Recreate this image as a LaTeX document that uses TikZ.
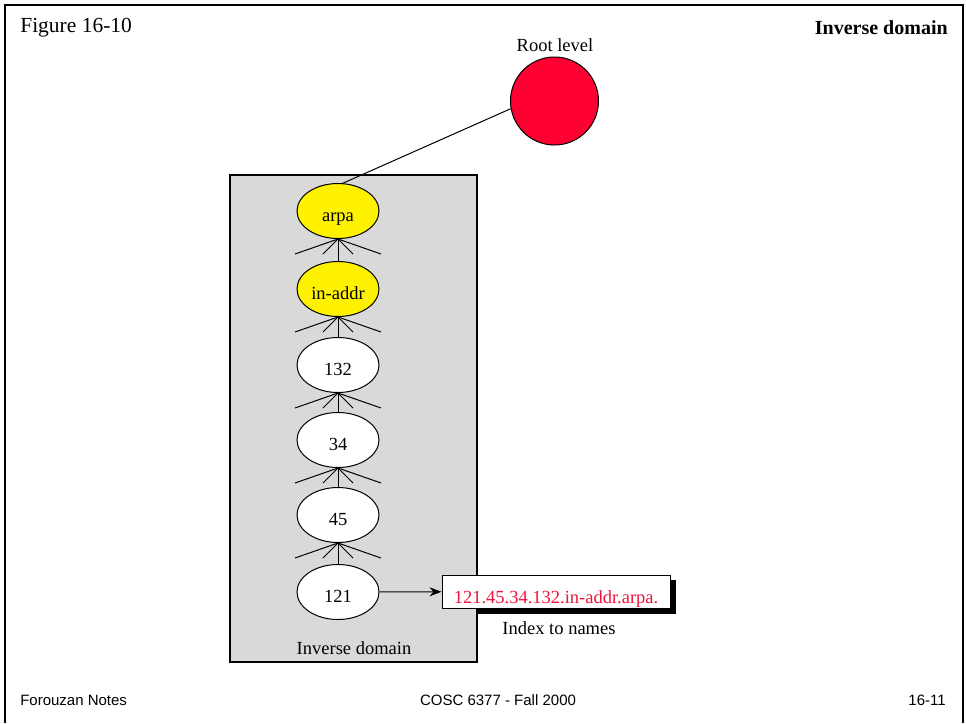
\documentclass[tikz,border=0pt]{standalone}
\usepackage{fontspec}
\setmainfont{Liberation Serif}
\setsansfont{Liberation Sans}
\usepackage{tikz}
\usetikzlibrary{positioning, shapes, arrows.meta, backgrounds}
\definecolor{rootred}{HTML}{FF0033}
\definecolor{boxred}{HTML}{F0143C}
\definecolor{domgray}{HTML}{D9D9D9}

\begin{document}
\begin{tikzpicture}[x=1pt,y=-1pt,semithick,
  dom/.style={ellipse, draw, fill=white, line width=1pt, minimum width=82pt, minimum height=55pt, inner sep=0pt, text height=21pt, text depth=0pt, font=\fontsize{18.5}{20}\selectfont},
  txt/.style={inner sep=0pt, font=\fontsize{18.5}{20}\selectfont},
  foot/.style={inner sep=0pt, font=\sffamily\fontsize{15}{17}\selectfont},
  fan/.style={line width=1pt},
  ]
  \useasboundingbox (0,0) rectangle (966,723);
  % page frame
  \draw[line width=2pt] (5,723) -- (5,5) -- (963,5) -- (963,723);
  \node[txt, anchor=west, font=\fontsize{21.5}{23}\selectfont] (fig) at (20,28) {Figure 16-10};
  \node[txt, anchor=east, font=\bfseries\fontsize{20}{22}\selectfont] (title) at (948,28) {Inverse domain};

  \node[txt] (rootlbl) at (555,45) {Root level};
  \node[circle, draw, fill=rootred, line width=1pt, minimum size=88pt] (root) at (554.5,101) {};

  \node[dom, fill=yellow] (arpa) at (338,211) {arpa};
  \node[dom, fill=yellow] (inaddr) at (338,289) {in-addr};
  \node[dom] (n132) at (338,365) {132};
  \node[dom] (n34) at (338,440) {34};
  \node[dom] (n45) at (338,515) {45};
  \node[dom] (n121) at (338,592) {121};

  \node[draw, fill=white, line width=1pt, minimum width=228pt, minimum height=33pt, text height=24pt, text depth=0pt, text=boxred, font=\fontsize{18.5}{20}\selectfont] (addr) at (556,591.5) {121.45.34.132.in-addr.arpa.};
  \node[txt] (idx) at (559,628) {Index to names};

  \begin{scope}[on background layer]
    \fill[black] ([shift={(5,5)}]addr.north west) rectangle ([shift={(5,5)}]addr.south east);
    \node[draw, fill=domgray, line width=1.2pt, minimum width=247pt, minimum height=487pt] (invdom) at (353.5,418.5) {};
  \end{scope}
  \node[txt] (invlbl) at (354,648) {Inverse domain};

  \draw[line width=1pt] (arpa.80) -- (root.190);

  % tree links with the fan at the parent
  \foreach \p/\c in {arpa/inaddr, inaddr/n132, n132/n34, n34/n45, n45/n121} {
    \draw[fan] (\p.south) -- (\c.north);
    \foreach \dx in {-43,-15,15,43}
      \draw[fan] (\p.south) -- ++(\dx,15);
  }

  \path[line width=1pt, -{Stealth[length=12pt,width=9pt]}]
    (n121) edge (addr);

  \node[foot, anchor=west] (notes) at (20,700) {Forouzan Notes};
  \node[foot] (course) at (498,700) {COSC 6377 - Fall 2000};
  \node[foot, anchor=east] (page) at (946,700) {16-11};
\end{tikzpicture}
\end{document}
